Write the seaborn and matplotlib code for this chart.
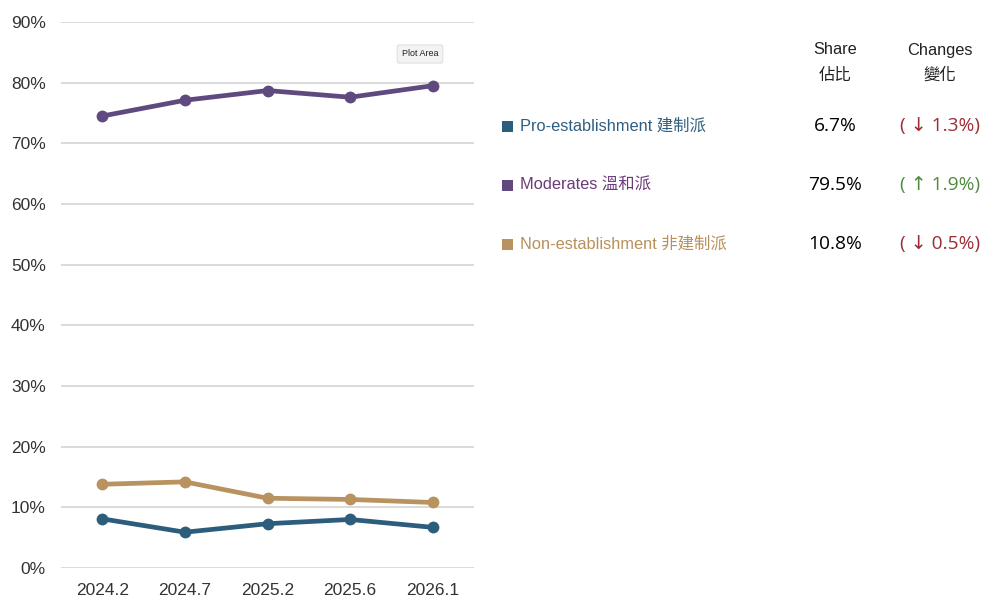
import matplotlib
matplotlib.use("Agg")
import matplotlib.pyplot as plt
import seaborn as sns
import pandas as pd
from matplotlib.ticker import FuncFormatter

periods = ["2024.2", "2024.7", "2025.2", "2025.6", "2026.1"]
pro_est = [8.1, 5.9, 7.3, 8.0, 6.7]
moderates = [74.5, 77.1, 78.7, 77.6, 79.5]
non_est = [13.8, 14.2, 11.5, 11.3, 10.8]

series_names = ["Pro-establishment 建制派", "Moderates 溫和派", "Non-establishment 非建制派"]
line_colors = ["#2d5d7c", "#5e4a7e", "#b8925f"]
label_colors = ["#2f5f80", "#6b3a78", "#b8905a"]
shares = ["6.7%", "79.5%", "10.8%"]
changes = ["( ↓ 1.3%)", "( ↑ 1.9%)", "( ↓ 0.5%)"]
change_colors = ["#9b2c35", "#4f8a3f", "#9b2c35"]

sns.set_theme(style="white")
plt.rcParams["font.family"] = ["Liberation Sans", "Noto Sans CJK TC", "DejaVu Sans"]

def tick_fam():
    return ["Liberation Sans", "DejaVu Sans"]

def num_fam():
    return ["Open Sans", "DejaVu Sans", "Noto Sans CJK TC"]

rows = []
for name, vals in zip(series_names, [pro_est, moderates, non_est]):
    for i, (p, v) in enumerate(zip(periods, vals)):
        rows.append({"period": p, "idx": i, "value": v, "series": name})
df = pd.DataFrame(rows)

fig = plt.figure(figsize=(9.83, 5.98), dpi=100)
W, H = 983, 598
ax = fig.add_axes([61 / W, 1 - 568 / H, (474 - 61) / W, (568 - 22) / H])

sns.lineplot(data=df, x="idx", y="value", hue="series", palette=dict(zip(series_names, line_colors)),
             marker="o", markersize=8.5, markeredgewidth=0, linewidth=3.4, ax=ax, legend=False)

ax.set_xlim(-0.5, 4.5)
ax.set_ylim(0, 90)
ax.set_yticks(range(0, 91, 10))
ax.yaxis.set_major_formatter(FuncFormatter(lambda v, p: f"{int(v)}%"))
ax.set_xticks(range(len(periods)))
ax.set_xticklabels(periods)
ax.grid(axis="y", color="#d4d4d4", linewidth=1.2)
ax.set_axisbelow(True)
for s in ax.spines.values():
    s.set_visible(False)
ax.tick_params(axis="both", length=0, labelsize=12.5, colors="#333333")
ax.tick_params(axis="y", pad=11)
ax.tick_params(axis="x", pad=11)
for lab in ax.get_xticklabels() + ax.get_yticklabels():
    lab.set_family(tick_fam())
ax.set_xlabel("")
ax.set_ylabel("")

# "Plot Area" tooltip
fig.text(420 / W, 1 - 54 / H, "Plot Area", fontsize=6.5, ha="center", va="center", color="#222222",
         family=tick_fam(),
         bbox=dict(boxstyle="round,pad=0.5,rounding_size=0.2", facecolor="#f3f3f3", edgecolor="#e0e0e0", linewidth=0.8))

# Right-side table
for x, top, bottom in [(835, "Share", "佔比"), (940, "Changes", "變化")]:
    fig.text(x / W, 1 - 50 / H, top, fontsize=11.8, ha="center", va="center", color="#222222")
    fig.text(x / W, 1 - 75 / H, bottom, fontsize=11.8, ha="center", va="center", color="#222222")

row_y = [126, 185, 244]
for name, lc, tc, sh, ch, cc, y in zip(series_names, line_colors, label_colors, shares, changes, change_colors, row_y):
    yy = 1 - y / H
    fig.patches.append(plt.Rectangle((502 / W, yy - 5.5 / H), 11 / W, 11 / H, transform=fig.transFigure,
                                     facecolor=lc, edgecolor="none"))
    fig.text(520 / W, yy, name, fontsize=11.8, ha="left", va="center", color=tc)
    fig.text(835 / W, yy, sh, fontsize=13.8, ha="center", va="center", color="#000000",
             family=num_fam())
    fig.text(940 / W, yy, ch, fontsize=13.8, ha="center", va="center", color=cc, family=num_fam())

fig.savefig("out.png", dpi=100)
